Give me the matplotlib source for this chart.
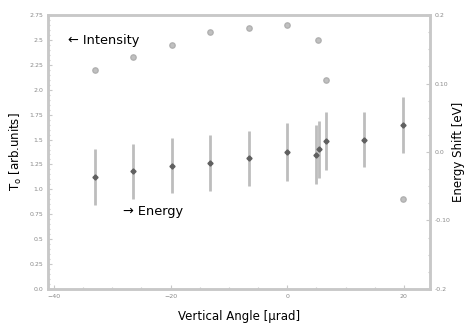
import numpy as np
import matplotlib
matplotlib.use("Agg")
import matplotlib.pyplot as plt
from matplotlib.ticker import AutoMinorLocator

# Intensity (left axis)
int_angle = [-33, -26.5, -19.8, -13.2, -6.6, 0, 5.2, 6.6, 19.8]
int_value = [2.20, 2.33, 2.45, 2.58, 2.62, 2.65, 2.50, 2.10, 0.90]

# Energy shift (right axis)
en_angle = [-33, -26.5, -19.8, -13.2, -6.6, 0, 5.0, 5.5, 6.6, 13.2, 19.8]
en_value = [-0.036, -0.028, -0.020, -0.016, -0.009, 0.0, -0.004, 0.004, 0.016, 0.018, 0.039]
en_err = [0.041, 0.040, 0.040, 0.041, 0.040, 0.042, 0.043, 0.042, 0.042, 0.040, 0.041]

left_ticks = [0.0, 0.25, 0.5, 0.75, 1.0, 1.25, 1.5, 1.75, 2.0, 2.25, 2.5, 2.75]
left_labels = ["0.0", "0.25", "0.5", "0.75", "1.0", "1.25", "1.5", "1.75", "2.0", "2.25", "2.5", "2.75"]
right_ticks = [-0.2, -0.1, 0.0, 0.1, 0.2]
right_labels = ["-0.2", "-0.10", "0.0", "0.10", "0.2"]
x_ticks = [-40, -20, 0, 20]

spine_col = "#c8c8c8"
tick_col = "#8a8a8a"

fig = plt.figure(figsize=(4.67, 3.29), dpi=100)
ax = fig.add_axes([0.103, 0.122, 0.818, 0.832])
ax2 = ax.twinx()

ax.plot(int_angle, int_value, "o", ms=3.8, color="#c0c0c0", mec="#b0b0b0", zorder=3)
ax2.errorbar(en_angle, en_value, yerr=en_err, fmt="D", ms=2.6, color="#606060",
             ecolor="#bdbdbd", elinewidth=2, capsize=0, zorder=3)

ax.set_xlim(-41, 24.5)
ax.set_ylim(0, 2.75)
ax2.set_ylim(-0.2, 0.2)

ax.set_xticks(x_ticks)
ax.set_yticks(left_ticks)
ax.set_yticklabels(left_labels)
ax2.set_yticks(right_ticks)
ax2.set_yticklabels(right_labels)
ax.xaxis.set_minor_locator(AutoMinorLocator(4))
ax.yaxis.set_minor_locator(AutoMinorLocator(5))
ax2.yaxis.set_minor_locator(AutoMinorLocator(4))

for a in (ax, ax2):
    for s in a.spines.values():
        s.set_color(spine_col)
        s.set_linewidth(1.8)
    a.tick_params(which="both", colors=spine_col, labelcolor=tick_col, labelsize=4.5,
                  direction="in", length=3, width=0.8)
    a.tick_params(which="minor", length=1.5)

ax.set_xlabel("Vertical Angle [μrad]", fontsize=8.5, labelpad=8)
ax.set_ylabel("T$_{\\rm o}$ [arb.units]", fontsize=8.5, labelpad=4)
ax2.set_ylabel("Energy Shift [eV]", fontsize=8.5, labelpad=1)

ax.text(-37.6, 2.5, "← Intensity", fontsize=9.3, va="center", ha="left")
ax.text(-28.2, 0.78, "→ Energy", fontsize=9.3, va="center", ha="left")

fig.savefig("out.png", dpi=100)
